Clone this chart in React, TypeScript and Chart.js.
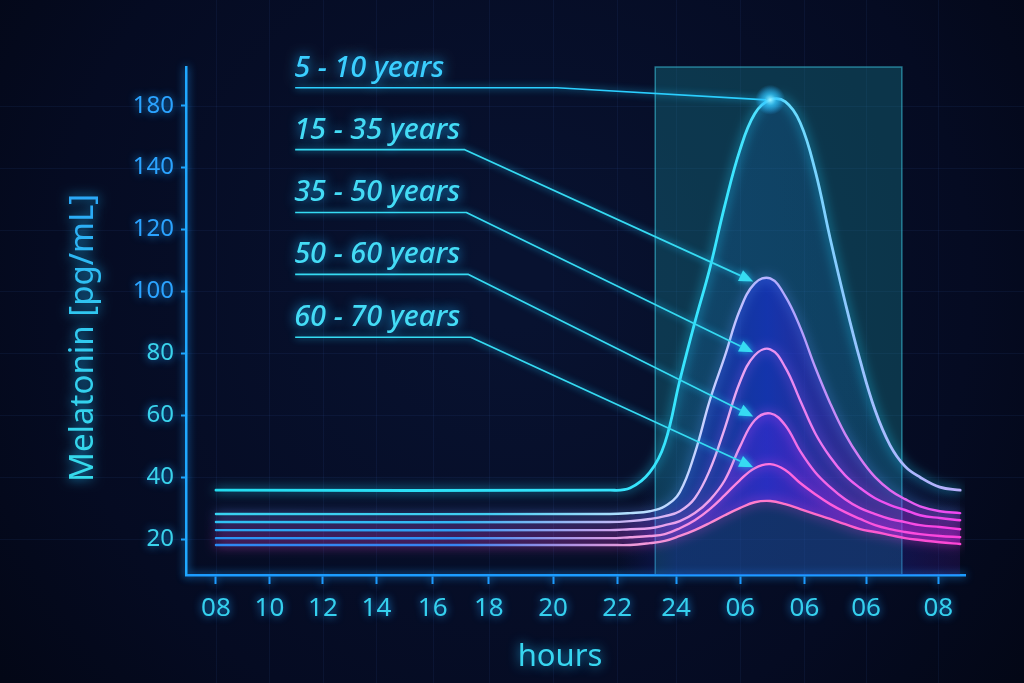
import React, { useEffect, useRef } from 'react';
import { Chart, registerables, LinearScale } from 'chart.js';

// ---------------- data ----------------
const X_TICK_POS = [0, 1, 2, 3, 4.05, 5.1, 6.3, 7.5, 8.6, 9.8, 11, 12.15, 13.5];
const X_TICK_LABELS = ['08', '10', '12', '14', '16', '18', '20', '22', '24', '06', '06', '06', '08'];
const Y_TICKS = [20, 40, 60, 80, 100, 120, 140, 180];

const HOURS = [0, 7.36, 7.74, 8.11, 8.39, 8.67, 8.95, 9.23, 9.51, 9.79, 10.07, 10.36, 10.64, 10.92, 11.2, 11.48, 11.76, 12.04, 12.32, 12.6, 12.88, 13.16, 13.53, 13.91];

const AGE_5_10 = [35.8, 35.8, 36.5, 41.6, 51.0, 71.3, 90.0, 107.4, 127.7, 151.0, 174.8, 183.8, 182.6, 169.0, 139.0, 117.1, 96.5, 77.7, 61.6, 50.3, 43.5, 40.0, 36.8, 35.8];
const AGE_15_35 = [28.1, 28.1, 28.4, 29.0, 30.6, 35.2, 47.7, 64.8, 79.0, 93.9, 102.6, 104.2, 98.5, 88.4, 75.5, 63.9, 53.9, 46.1, 40.0, 35.8, 32.9, 30.6, 29.0, 28.4];
const AGE_35_50 = [25.5, 25.5, 25.8, 26.5, 27.4, 29.0, 33.2, 42.3, 55.8, 70.6, 79.4, 81.3, 75.5, 64.8, 54.2, 46.5, 40.6, 36.5, 33.2, 31.0, 29.4, 27.7, 26.8, 26.1];
const AGE_50_60 = [22.9, 22.9, 23.2, 23.5, 24.5, 25.8, 28.4, 32.6, 39.0, 49.7, 58.4, 60.6, 56.8, 48.4, 41.6, 36.8, 32.9, 30.0, 28.1, 26.5, 25.5, 24.5, 23.9, 23.2];
const AGE_60_70 = [20.3, 20.3, 20.6, 21.0, 21.6, 23.5, 26.1, 29.7, 34.2, 39.0, 42.9, 44.2, 42.3, 38.1, 34.5, 31.3, 28.7, 26.5, 24.5, 23.2, 22.3, 21.6, 21.0, 20.6];
const AGE_LOWEST = [18.1, 18.1, 18.1, 18.7, 19.4, 21.0, 22.9, 25.2, 27.7, 30.0, 31.9, 32.3, 31.3, 29.7, 28.1, 26.5, 24.8, 23.2, 22.3, 21.3, 20.3, 19.7, 19.0, 18.4];

const SERIES = [AGE_5_10, AGE_15_35, AGE_35_50, AGE_50_60, AGE_60_70, AGE_LOWEST];
const SERIES_NAMES = ['5 - 10 years', '15 - 35 years', '35 - 50 years', '50 - 60 years', '60 - 70 years', ''];

// highlighted night window (x-axis units)
const NIGHT_WINDOW = [8.21, 12.82];

// callout placement (x-axis units / y-axis values)
const CALLOUT_TEXT_X = 1.48;
const CALLOUT_LINE_Y = [191.6, 151.6, 125.5, 105.5, 85.2];
const CALLOUT_ELBOW_X = [6.37, 4.65, 4.68, 4.72, 4.76];

const Y_TITLE = 'Melatonin [pg/mL]';
const X_TITLE = 'hours';

// ---------------- styles ----------------
type Stop = [number, string];
const SERIES_STYLE: { line: Stop[]; glow: string; width: number; fill: any; fillStops: Stop[] | null }[] = [
  {
    line: [[0, '#22dcef'], [9.6, '#3ae6ff'], [11.0, '#70d8ff'], [12.4, '#a6bcff'], [13.9, '#b8aefc']],
    glow: 'rgba(30,210,255,0.95)', width: 2.8, fill: 1,
    fillStops: [[7.9, 'rgba(30,120,230,0)'], [8.8, 'rgba(30,130,220,0.18)'], [12.8, 'rgba(30,120,220,0.15)'], [13.9, 'rgba(60,80,220,0.05)']],
  },
  {
    line: [[0, '#38d2f0'], [5.0, '#40cdf2'], [7.8, '#b8e0ff'], [9.2, '#c8d0ff'], [10.8, '#b0a4ff'], [12.4, '#e070f0'], [13.9, '#f044f0']],
    glow: 'rgba(90,150,255,0.9)', width: 2.4, fill: 5,
    fillStops: [[7.5, 'rgba(30,50,220,0)'], [8.6, 'rgba(30,60,230,0.38)'], [10.3, 'rgba(25,50,240,0.58)'], [12.0, 'rgba(90,30,220,0.45)'], [13.9, 'rgba(150,30,210,0.3)']],
  },
  {
    line: [[0, '#2ec4f2'], [4.5, '#30b8f2'], [7.8, '#d8b8f4'], [9.4, '#e8b0f2'], [10.8, '#ea88f0'], [12.4, '#f052f0'], [13.9, '#ff3ce8']],
    glow: 'rgba(170,100,255,0.85)', width: 2.4, fill: false, fillStops: null,
  },
  {
    line: [[0, '#24aaf2'], [4.5, '#2aa0f2'], [7.8, '#e8a8ec'], [9.4, '#f0a0ea'], [10.8, '#f070e8'], [13.9, '#ff3ce0']],
    glow: 'rgba(210,80,255,0.85)', width: 2.4, fill: 5,
    fillStops: [[7.8, 'rgba(130,20,200,0)'], [9.2, 'rgba(130,20,200,0.38)'], [11, 'rgba(140,20,200,0.42)'], [13.9, 'rgba(170,20,200,0.3)']],
  },
  {
    line: [[0, '#2098f2'], [4.5, '#2492f2'], [7.8, '#f0a0e0'], [9.4, '#ff90e0'], [10.8, '#ff66dd'], [13.9, '#ff40dc']],
    glow: 'rgba(235,70,240,0.85)', width: 2.4, fill: false, fillStops: null,
  },
  {
    line: [[0, '#208cf2'], [4.5, '#2888f2'], [7.8, '#f0a0d8'], [9.4, '#ff88d0'], [10.8, '#ff70c8'], [13.9, '#ff44d4']],
    glow: 'rgba(240,70,220,0.85)', width: 2.4, fill: 'start',
    fillStops: [[7.5, 'rgba(30,40,160,0)'], [8.6, 'rgba(30,40,180,0.3)'], [12.8, 'rgba(40,40,170,0.3)'], [13.9, 'rgba(90,30,170,0.2)']],
  },
];

// ---------------- y-axis with a compressed step above 140 ----------------
const BREAK_AT = 140;
const toAxis = (v: number) => (v <= BREAK_AT ? v : BREAK_AT + (v - BREAK_AT) / 2);
const fromAxis = (u: number) => (u <= BREAK_AT ? u : BREAK_AT + (u - BREAK_AT) * 2);

class BrokenLinearScale extends LinearScale {
  static id = 'brokenLinear';
  static defaults = {};
  determineDataLimits() {
    super.determineDataLimits();
    this.min = toAxis(this.min);
    this.max = toAxis(this.max);
  }
  buildTicks() {
    return Y_TICKS.map((v) => ({ value: v }));
  }
  getPixelForValue(value: number) {
    return super.getPixelForValue(toAxis(value));
  }
  getValueForPixel(pixel: number) {
    return fromAxis(super.getValueForPixel(pixel));
  }
}

function hGrad(chart: any, stops: Stop[]) {
  const { ctx, chartArea, scales } = chart;
  if (!chartArea || !scales || !scales.x) return stops[0][1];
  const xs = scales.x;
  const x0 = xs.getPixelForValue(stops[0][0]);
  const x1 = xs.getPixelForValue(stops[stops.length - 1][0]);
  const g = ctx.createLinearGradient(x0, 0, x1, 0);
  stops.forEach(([u, c]) => {
    const t = (xs.getPixelForValue(u) - x0) / (x1 - x0);
    g.addColorStop(Math.min(1, Math.max(0, t)), c);
  });
  return g;
}

const resetShadow = (ctx: CanvasRenderingContext2D) => {
  ctx.shadowBlur = 0;
  ctx.shadowColor = 'rgba(0,0,0,0)';
};

const neonPlugin = {
  id: 'neonMelatonin',
  beforeDraw(chart: any) {
    const { ctx, width, height, chartArea, scales } = chart;
    const xs = scales.x;
    const ys = scales.y;
    ctx.save();
    const bg = ctx.createRadialGradient(width * 0.5, height * 0.42, 40, width * 0.5, height * 0.42, width * 0.72);
    bg.addColorStop(0, '#081230');
    bg.addColorStop(0.6, '#050b22');
    bg.addColorStop(1, '#020510');
    ctx.fillStyle = bg;
    ctx.fillRect(0, 0, width, height);

    ctx.strokeStyle = 'rgba(70,110,200,0.09)';
    ctx.lineWidth = 1;
    Y_TICKS.forEach((v) => {
      const py = Math.round(ys.getPixelForValue(v)) + 0.5;
      ctx.beginPath();
      ctx.moveTo(0, py);
      ctx.lineTo(width, py);
      ctx.stroke();
    });
    X_TICK_POS.forEach((v) => {
      const px = Math.round(xs.getPixelForValue(v)) + 0.5;
      ctx.beginPath();
      ctx.moveTo(px, 0);
      ctx.lineTo(px, height);
      ctx.stroke();
    });

    const hx0 = xs.getPixelForValue(NIGHT_WINDOW[0]);
    const hx1 = xs.getPixelForValue(NIGHT_WINDOW[1]);
    ctx.fillStyle = 'rgba(25,135,150,0.34)';
    ctx.fillRect(hx0, chartArea.top, hx1 - hx0, chartArea.bottom - chartArea.top);
    ctx.strokeStyle = 'rgba(60,200,225,0.55)';
    ctx.lineWidth = 1.5;
    ctx.strokeRect(hx0, chartArea.top, hx1 - hx0, chartArea.bottom - chartArea.top);
    ctx.restore();

    // glow for the axes that are drawn next
    ctx.shadowColor = 'rgba(30,160,255,0.9)';
    ctx.shadowBlur = 9;
  },
  beforeDatasetsDraw(chart: any) {
    resetShadow(chart.ctx);
  },
  beforeDatasetDraw(chart: any, args: any) {
    const ctx = chart.ctx;
    ctx.shadowColor = SERIES_STYLE[args.index].glow;
    ctx.shadowBlur = 11;
  },
  afterDatasetDraw(chart: any) {
    resetShadow(chart.ctx);
  },
  afterDatasetsDraw(chart: any) {
    const { ctx, scales } = chart;
    const xs = scales.x;
    const ys = scales.y;
    resetShadow(ctx);
    for (let i = 0; i < 5; i++) {
      const data = SERIES[i];
      let pk = 0;
      data.forEach((v, j) => {
        if (v > data[pk]) pk = j;
      });
      const peakX = xs.getPixelForValue(HOURS[pk]);
      const peakY = ys.getPixelForValue(data[pk]);
      const sx = xs.getPixelForValue(CALLOUT_TEXT_X);
      const ly = ys.getPixelForValue(CALLOUT_LINE_Y[i]);
      const ex = xs.getPixelForValue(CALLOUT_ELBOW_X[i]);
      const isTop = i === 0;
      const tipX = isTop ? peakX - 4 : peakX - 17;
      const tipY = isTop ? peakY : peakY + 3;
      const ang = Math.atan2(tipY - ly, tipX - ex);
      const headLen = isTop ? 0 : 14;
      const bx = tipX - Math.cos(ang) * headLen;
      const by = tipY - Math.sin(ang) * headLen;
      const color = isTop ? '#2bcfff' : '#36dbf2';

      ctx.save();
      ctx.shadowColor = 'rgba(30,200,255,0.9)';
      ctx.shadowBlur = 7;
      ctx.strokeStyle = color;
      ctx.lineWidth = 1.7;
      ctx.lineJoin = 'round';
      ctx.beginPath();
      ctx.moveTo(sx, ly);
      ctx.lineTo(ex, ly);
      ctx.lineTo(bx, by);
      ctx.stroke();
      if (!isTop) {
        const px = -Math.sin(ang);
        const py = Math.cos(ang);
        ctx.fillStyle = color;
        ctx.beginPath();
        ctx.moveTo(tipX, tipY);
        ctx.lineTo(bx + px * 6, by + py * 6);
        ctx.lineTo(bx - px * 6, by - py * 6);
        ctx.closePath();
        ctx.fill();
      } else {
        const rg = ctx.createRadialGradient(peakX, peakY, 0, peakX, peakY, 15);
        rg.addColorStop(0, 'rgba(170,245,255,0.9)');
        rg.addColorStop(0.4, 'rgba(60,200,255,0.5)');
        rg.addColorStop(1, 'rgba(40,160,255,0)');
        ctx.fillStyle = rg;
        ctx.beginPath();
        ctx.arc(peakX, peakY, 15, 0, Math.PI * 2);
        ctx.fill();
      }
      ctx.shadowBlur = 12;
      ctx.shadowColor = 'rgba(30,180,255,0.95)';
      ctx.font = 'italic 500 29px "Noto Sans", sans-serif';
      ctx.textAlign = 'left';
      ctx.textBaseline = 'alphabetic';
      ctx.fillStyle = isTop ? '#3bcfff' : '#44dcf6';
      ctx.fillText(SERIES_NAMES[i], sx - 1, ly - 11);
      ctx.restore();
    }
  },
  afterDraw(chart: any) {
    const { ctx } = chart;
    ctx.save();
    ctx.shadowColor = 'rgba(30,190,255,0.85)';
    ctx.shadowBlur = 12;
    ctx.font = '400 33px "Noto Sans", sans-serif';
    ctx.textAlign = 'center';
    ctx.textBaseline = 'alphabetic';
    ctx.save();
    ctx.translate(93, 338);
    ctx.rotate(-Math.PI / 2);
    const g = ctx.createLinearGradient(-150, 0, 150, 0);
    g.addColorStop(0, '#36dcea');
    g.addColorStop(0.6, '#30c6f0');
    g.addColorStop(1, '#2aa5f8');
    ctx.fillStyle = g;
    ctx.fillText(Y_TITLE, 0, 0);
    ctx.restore();
    ctx.font = '400 31px "Noto Sans", sans-serif';
    ctx.fillStyle = '#38d6f0';
    ctx.fillText(X_TITLE, 560, 666);
    ctx.restore();
  },
};

Chart.register(neonPlugin as any);
Chart.register(...registerables);
Chart.register(BrokenLinearScale as any);
Chart.defaults.font.family = '"Noto Sans", sans-serif';

export default function App() {
  const ref = useRef<HTMLCanvasElement>(null);
  useEffect(() => {
    document.body.style.margin = '0';
    document.body.style.background = '#02050f';
    if (!ref.current) return;
    const chart = new Chart(ref.current, {
      type: 'line',
      data: {
        datasets: SERIES.map((data, i) => {
          const st = SERIES_STYLE[i];
          return {
            label: SERIES_NAMES[i],
            data: data.map((v, j) => ({ x: HOURS[j], y: v })),
            borderColor: (c: any) => hGrad(c.chart, st.line),
            backgroundColor: (c: any) => (st.fillStops ? hGrad(c.chart, st.fillStops) : 'rgba(0,0,0,0)'),
            borderWidth: st.width,
            pointRadius: 0,
            pointHoverRadius: 0,
            tension: 0.4,
            fill: st.fill,
            borderCapStyle: 'round',
          };
        }),
      },
      options: {
        responsive: false,
        animation: false,
        devicePixelRatio: 1,
        layout: { padding: { top: 67, right: 59, left: 0, bottom: 0 } },
        plugins: {
          legend: { display: false },
          tooltip: { enabled: false },
          filler: { drawTime: 'beforeDatasetsDraw', propagate: false },
        },
        scales: {
          x: {
            type: 'linear',
            min: -0.56,
            max: 14,
            afterBuildTicks: (s: any) => {
              s.ticks = X_TICK_POS.map((v) => ({ value: v }));
            },
            afterFit: (s: any) => {
              s.height = 108;
            },
            ticks: {
              callback: (_v: any, i: number) => X_TICK_LABELS[i],
              color: '#35d0ee',
              font: { size: 26, family: '"Noto Sans", sans-serif' },
              padding: 9,
              autoSkip: false,
              maxRotation: 0,
              minRotation: 0,
            },
            grid: { display: true, drawOnChartArea: false, drawTicks: true, tickLength: 9, tickWidth: 2, tickColor: '#1e9cff', color: '#1e9cff' },
            border: { display: true, color: '#1c9cff', width: 2.5 },
          },
          y: {
            type: 'brokenLinear',
            min: 8.4,
            max: 205,
            afterFit: (s: any) => {
              s.width = 186;
            },
            ticks: {
              callback: (v: any) => String(v),
              color: (c: any) => (c.tick && c.tick.value >= 100 ? '#2ba3ff' : '#3ad3ec'),
              font: { size: 24, family: '"Noto Sans", sans-serif' },
              padding: 7,
              autoSkip: false,
            },
            grid: { display: true, drawOnChartArea: false, drawTicks: true, tickLength: 5, tickWidth: 2, tickColor: '#1fa8ff', color: '#1fa8ff' },
            border: { display: true, color: '#1fa8ff', width: 2.5 },
          },
        },
      } as any,
    } as any);
    return () => chart.destroy();
  }, []);
  return (
    <div style={{ width: 1024, height: 683 }}>
      <canvas ref={ref} width={1024} height={683} style={{ display: 'block', width: 1024, height: 683 }} />
    </div>
  );
}
